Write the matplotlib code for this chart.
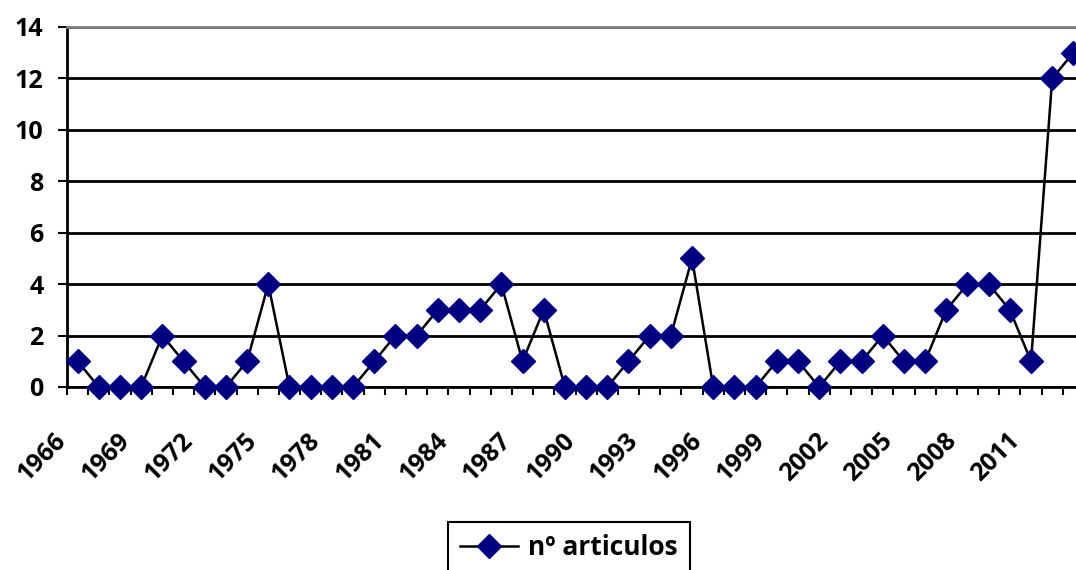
import numpy as np
import matplotlib
matplotlib.use("Agg")
import matplotlib.pyplot as plt
import matplotlib.transforms as mtransforms
from matplotlib.ticker import FixedLocator, NullFormatter

# articles per year
years = list(range(1966, 2014))
articulos = [1, 0, 0, 0, 2, 1, 0, 0, 1, 4,
             0, 0, 0, 0, 1, 2, 2, 3, 3, 3,
             4, 1, 3, 0, 0, 0, 1, 2, 2, 5,
             0, 0, 0, 1, 1, 0, 1, 1, 2, 1,
             1, 3, 4, 4, 3, 1, 12, 13]
label_years = list(range(1966, 2012, 3))
serie = "nº articulos"

plt.rcParams['font.family'] = ['Open Sans', 'DejaVu Sans']
plt.rcParams['font.weight'] = 'bold'

fig = plt.figure(figsize=(10.76, 5.70), dpi=100)
ax = fig.add_axes([67/1076, 1-387/570, (1084-67)/1076, (387-27)/570])

ax.plot(years, articulos, color='black', lw=1.8, marker='D', ms=12,
        mfc='#000080', mec='#000080', label=serie, clip_on=False, zorder=3)

ax.set_xlim(years[0]-0.5, years[-1]+0.5)
ax.set_ylim(0, 14)
ax.set_yticks(range(0, 15, 2))
ax.yaxis.grid(True, color='black', lw=2)
ax.set_axisbelow(True)

# category boundaries get the tick marks, labels drawn separately
ax.xaxis.set_major_locator(FixedLocator(np.arange(years[0]-0.5, years[-1]+1, 1)))
ax.xaxis.set_major_formatter(NullFormatter())
ax.tick_params(axis='x', length=6, width=1.5, direction='out')
ax.tick_params(axis='y', length=6.5, width=1.5, labelsize=18, pad=10.5)
for lab in ax.get_yticklabels():
    lab.set_fontweight('bold')

off = mtransforms.ScaledTranslation(-24/100, -41/100, fig.dpi_scale_trans)
for yr in label_years:
    ax.text(yr, 0, str(yr), transform=ax.get_xaxis_transform() + off,
            rotation=45, ha='right', va='top', rotation_mode='anchor',
            fontsize=18, fontweight='bold', clip_on=False)

for s in ['left', 'bottom']:
    ax.spines[s].set_linewidth(2)
    ax.spines[s].set_color('black')
ax.spines['top'].set_color('#808080')
ax.spines['top'].set_linewidth(2)
ax.spines['right'].set_visible(False)

leg = fig.legend(loc='upper left', bbox_to_anchor=(448/1076, 1-522/570),
                 fancybox=False, edgecolor='black', framealpha=1,
                 prop={'size': 19, 'weight': 'bold'}, handlelength=2.2,
                 handletextpad=0.4, borderpad=0.45, borderaxespad=0)
leg.get_frame().set_linewidth(1.5)

fig.savefig('out.png', dpi=100)
